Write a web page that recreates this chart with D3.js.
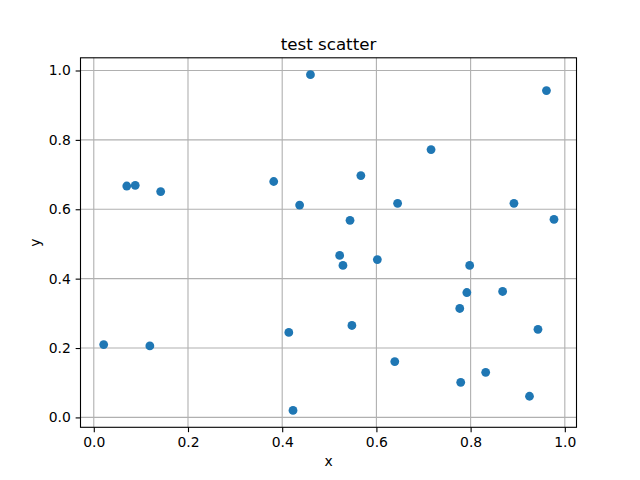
<!DOCTYPE html>
<html>
<head>
<meta charset="utf-8">
<script src="https://cdn.jsdelivr.net/npm/d3@7"></script>
<style>
  html, body { margin: 0; padding: 0; background: #fff; }
  svg { display: block; font-family: "DejaVu Sans", sans-serif; }
</style>
</head>
<body>
<svg id="chart" width="640" height="480"></svg>
<script>
const xValues = [0.070, 0.088, 0.142, 0.382, 0.437, 0.460, 0.961, 0.716, 0.567, 0.645,
                 0.892, 0.544, 0.977, 0.021, 0.119, 0.414, 0.423, 0.522, 0.529, 0.602,
                 0.798, 0.792, 0.868, 0.777, 0.548, 0.943, 0.639, 0.832, 0.779, 0.925];
const yValues = [0.667, 0.669, 0.651, 0.680, 0.612, 0.988, 0.942, 0.772, 0.697, 0.617,
                 0.617, 0.568, 0.571, 0.210, 0.206, 0.245, 0.020, 0.467, 0.438, 0.455,
                 0.438, 0.360, 0.363, 0.314, 0.265, 0.254, 0.161, 0.130, 0.101, 0.061];
const xTicks = [0.0, 0.2, 0.4, 0.6, 0.8, 1.0];
const yTicks = [0.0, 0.2, 0.4, 0.6, 0.8, 1.0];
const titleText = "test scatter";
const xLabel = "x";
const yLabel = "y";

const points = xValues.map((x, i) => ({x: x, y: yValues[i]}));

const L = 80.5, R = 576.5, T = 57.8, B = 427.3;
const svg = d3.select("#chart");

const x = d3.scaleLinear().domain([-0.0282, 1.0248]).range([L, R]);
const y = d3.scaleLinear().domain([-0.0285, 1.0366]).range([B, T]);

// grid
const grid = svg.append("g");
grid.selectAll("line.gx").data(xTicks).join("line")
  .attr("x1", d => x(d)).attr("x2", d => x(d))
  .attr("y1", T).attr("y2", B)
  .attr("stroke", "#b0b0b0").attr("stroke-width", 1.1);
grid.selectAll("line.gy").data(yTicks).join("line")
  .attr("y1", d => y(d)).attr("y2", d => y(d))
  .attr("x1", L).attr("x2", R)
  .attr("stroke", "#b0b0b0").attr("stroke-width", 1.1);

// points
svg.append("g").selectAll("circle").data(points).join("circle")
  .attr("cx", d => x(d.x)).attr("cy", d => y(d.y))
  .attr("r", 4.4).attr("fill", "#1f77b4");

// axes
const xAxis = d3.axisBottom(x).tickValues(xTicks).tickFormat(d3.format(".1f"))
  .tickSizeInner(4.86).tickSizeOuter(0).tickPadding(4.86);
const yAxis = d3.axisLeft(y).tickValues(yTicks).tickFormat(d3.format(".1f"))
  .tickSizeInner(4.86).tickSizeOuter(0).tickPadding(4.86);

const gx = svg.append("g").attr("transform", `translate(0,${B})`).call(xAxis);
const gy = svg.append("g").attr("transform", `translate(${L},0)`).call(yAxis);
[gx, gy].forEach(g => {
  g.select(".domain").remove();
  g.selectAll(".tick line").attr("stroke", "#000").attr("stroke-width", 1.1);
  g.selectAll(".tick text").attr("fill", "#000")
    .style("font-family", "DejaVu Sans").style("font-size", "13.9px");
});

// frame
svg.append("rect").attr("x", L).attr("y", T).attr("width", R - L).attr("height", B - T)
  .attr("fill", "none").attr("stroke", "#000").attr("stroke-width", 1.1);

// labels
svg.append("text").attr("x", (L + R) / 2).attr("y", 49.5)
  .attr("text-anchor", "middle").style("font-size", "16.7px").attr("fill", "#000")
  .text(titleText);
svg.append("text").attr("x", (L + R) / 2).attr("y", 466)
  .attr("text-anchor", "middle").style("font-size", "13.9px").attr("fill", "#000")
  .text(xLabel);
svg.append("text").attr("transform", `translate(40,${(T + B) / 2}) rotate(-90)`)
  .attr("text-anchor", "middle").style("font-size", "13.9px").attr("fill", "#000")
  .text(yLabel);
</script>
</body>
</html>
